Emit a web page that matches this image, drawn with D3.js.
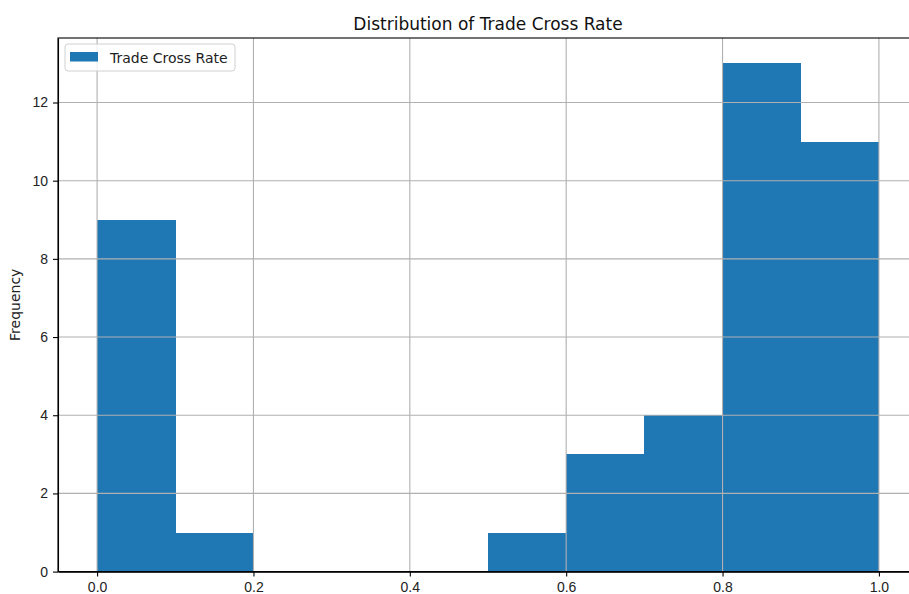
<!DOCTYPE html>
<html>
<head>
<meta charset="utf-8">
<script src="https://cdn.jsdelivr.net/npm/d3@7"></script>
<style>
  body { margin: 0; background: #fff; }
  svg { font-family: "DejaVu Sans", sans-serif; }
  .grid line { stroke: #b0b0b0; stroke-width: 1.1; }
  .axis path, .axis line { stroke: #000; stroke-width: 1.1; }
  .axis text { font-size: 14px; fill: #222; }
</style>
</head>
<body>
<div id="chart"></div>
<script>
// histogram bins (10 equal bins from 0 to 1) and counts
var binEdges = [0.0, 0.1, 0.2, 0.3, 0.4, 0.5, 0.6, 0.7, 0.8, 0.9, 1.0];
var counts   = [9, 1, 0, 0, 0, 1, 3, 4, 13, 11];
var xTicks   = [0.0, 0.2, 0.4, 0.6, 0.8, 1.0];
var yTicks   = [0, 2, 4, 6, 8, 10, 12];
var seriesName = "Trade Cross Rate";
var chartTitle = "Distribution of Trade Cross Rate";

var W = 909, H = 594;
var margin = {top: 38, right: -9, bottom: 22.4, left: 58};
var width  = W - margin.left - margin.right;
var height = H - margin.top - margin.bottom;

var bins = counts.map(function(c, i) {
	return {x0: binEdges[i], x1: binEdges[i + 1], n: c};
});

var svg = d3.select("#chart").append("svg")
	.attr("width", W)
	.attr("height", H);

var g = svg.append("g")
	.attr("transform", "translate(" + margin.left + "," + margin.top + ")");

var xScale = d3.scaleLinear().domain([-0.05, 1.05]).range([0, width]);
var yScale = d3.scaleLinear().domain([0, d3.max(counts) * 1.05]).range([height, 0]);

// bars
g.selectAll(".bar")
	.data(bins.filter(function(d) { return d.n > 0; }))
	.enter().append("rect")
	.attr("class", "bar")
	.attr("x", function(d) { return xScale(d.x0); })
	.attr("y", function(d) { return yScale(d.n); })
	.attr("width", function(d) { return xScale(d.x1) - xScale(d.x0) + 0.4; })
	.attr("height", function(d) { return height - yScale(d.n); })
	.attr("fill", "#1f77b4")
	.attr("shape-rendering", "crispEdges");

// grid lines sit above the bars here
var grid = g.append("g").attr("class", "grid");
grid.selectAll(".vx").data(xTicks).enter().append("line")
	.attr("x1", function(d) { return xScale(d); })
	.attr("x2", function(d) { return xScale(d); })
	.attr("y1", 0).attr("y2", height);
grid.selectAll(".hy").data(yTicks).enter().append("line")
	.attr("x1", 0).attr("x2", width)
	.attr("y1", function(d) { return yScale(d); })
	.attr("y2", function(d) { return yScale(d); });

// axes
var xAxis = d3.axisBottom(xScale).tickValues(xTicks).tickFormat(d3.format(".1f"))
	.tickSizeInner(5).tickSizeOuter(0).tickPadding(5);
var yAxis = d3.axisLeft(yScale).tickValues(yTicks).tickFormat(d3.format("d"))
	.tickSizeInner(5).tickSizeOuter(0).tickPadding(5);

g.append("g").attr("class", "axis")
	.attr("transform", "translate(0," + height + ")")
	.call(xAxis);
g.append("g").attr("class", "axis")
	.call(yAxis);

// frame
g.append("rect")
	.attr("x", 0).attr("y", 0)
	.attr("width", width).attr("height", height)
	.attr("fill", "none")
	.attr("stroke", "#000")
	.attr("stroke-width", 1.1);

// title
g.append("text")
	.attr("x", width / 2)
	.attr("y", -8)
	.attr("text-anchor", "middle")
	.style("font-size", "17px")
	.style("fill", "#111")
	.text(chartTitle);

// y label
svg.append("text")
	.attr("transform", "translate(20," + (margin.top + height / 2) + ") rotate(-90)")
	.attr("text-anchor", "middle")
	.style("font-size", "14px")
	.style("fill", "#222")
	.text("Frequency");

// legend
var leg = g.append("g").attr("transform", "translate(7,6)");
leg.append("rect")
	.attr("width", 170).attr("height", 27)
	.attr("rx", 3).attr("ry", 3)
	.attr("fill", "#fff").attr("fill-opacity", 0.8)
	.attr("stroke", "#d0d0d0").attr("stroke-width", 1);
leg.append("rect")
	.attr("x", 5).attr("y", 8)
	.attr("width", 28).attr("height", 9.5)
	.attr("fill", "#1f77b4");
leg.append("text")
	.attr("x", 45).attr("y", 18.5)
	.style("font-size", "14px")
	.style("fill", "#222")
	.text(seriesName);
</script>
</body>
</html>
